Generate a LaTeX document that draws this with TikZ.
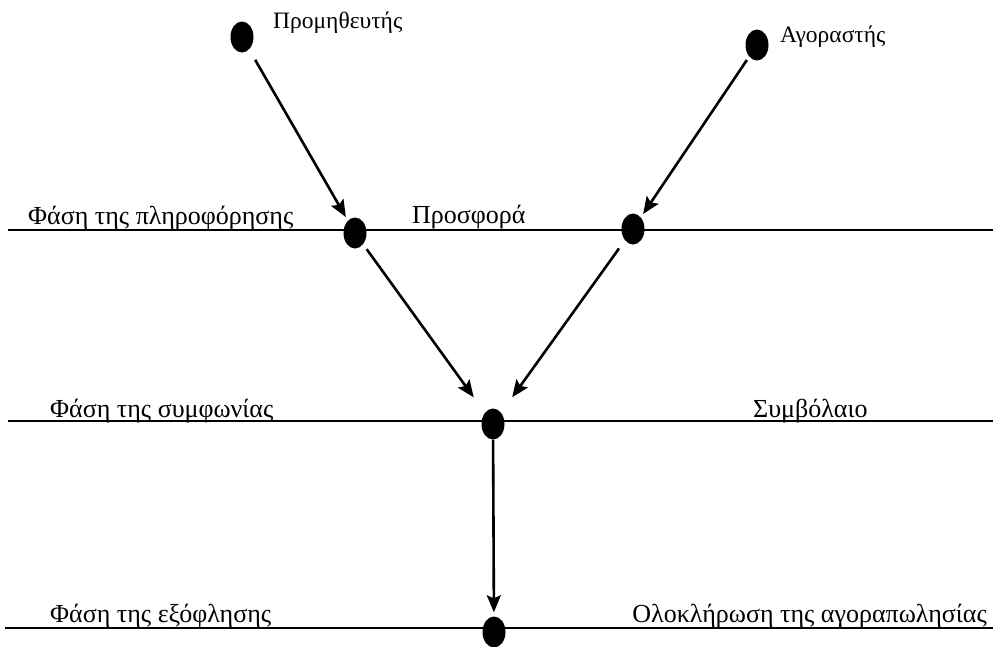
\documentclass[tikz,border=0pt]{standalone}
\usepackage{fontspec}
\setmainfont{Liberation Serif}
\usetikzlibrary{arrows.meta,shapes.geometric}
\begin{document}
\begin{tikzpicture}[x=1pt,y=-1pt,
  dot/.style={ellipse,fill=black,minimum width=23pt,minimum height=31pt,inner sep=0pt},
  phase/.style={line width=1.8pt},
  flow/.style={line width=2.6pt,-{Stealth[length=17pt,width=14pt,inset=3pt]}},
  lbl/.style={font=\fontsize{26}{26}\selectfont,inner sep=0pt},
  small/.style={font=\fontsize{23.5}{23.5}\selectfont,inner sep=0pt}]
\useasboundingbox (0,0) rectangle (993,646);
\clip (0,0) rectangle (993,646);
% phase lines
\coordinate (l1a) at (8,230); \coordinate (l1b) at (993,230);
\coordinate (l2a) at (8,421); \coordinate (l2b) at (993,421);
\coordinate (l3a) at (5,628); \coordinate (l3b) at (993,628);
\draw[phase] (l1a) -- (l1b);
\draw[phase] (l2a) -- (l2b);
\draw[phase] (l3a) -- (l3b);
% dots
\node[dot] (sup) at (242,37) {};
\node[dot] (buy) at (757,45) {};
\node[dot] (off1) at (355,233) {};
\node[dot] (off2) at (633,229) {};
\node[dot] (con) at (493,424) {};
\node[dot] (fin) at (494,632) {};
% labels
\node[small,anchor=base west] (tsup) at (273,28) {Προμηθευτής};
\node[small,anchor=base west] (tbuy) at (780,42) {Αγοραστής};
\node[lbl,anchor=base west] (t1) at (28,224) {Φάση της πληροφόρησης};
\node[lbl,anchor=base west] (t2) at (412,223) {Προσφορά};
\node[lbl,anchor=base west] (t3) at (50,417) {Φάση της συμφωνίας};
\node[lbl,anchor=base west] (t4) at (753,417) {Συμβόλαιο};
\node[lbl,anchor=base west] (t5) at (50,622) {Φάση της εξόφλησης};
\node[lbl,anchor=base east] (t6) at (987,622) {Ολοκλήρωση της αγοραπωλησίας};
% arrows
\draw[flow,shorten <=12pt,shorten >=4pt] (sup) -- (off1);
\draw[flow,shorten <=4pt,shorten >=4pt] (buy) -- (off2);
\draw[flow,shorten <=6pt,shorten >=19pt] (off1) -- (con);
\draw[flow,shorten <=10pt,shorten >=19pt] (off2) -- (con);
\draw[flow,shorten <=0pt,shorten >=4pt] (con) -- (fin);
\end{tikzpicture}
\end{document}
